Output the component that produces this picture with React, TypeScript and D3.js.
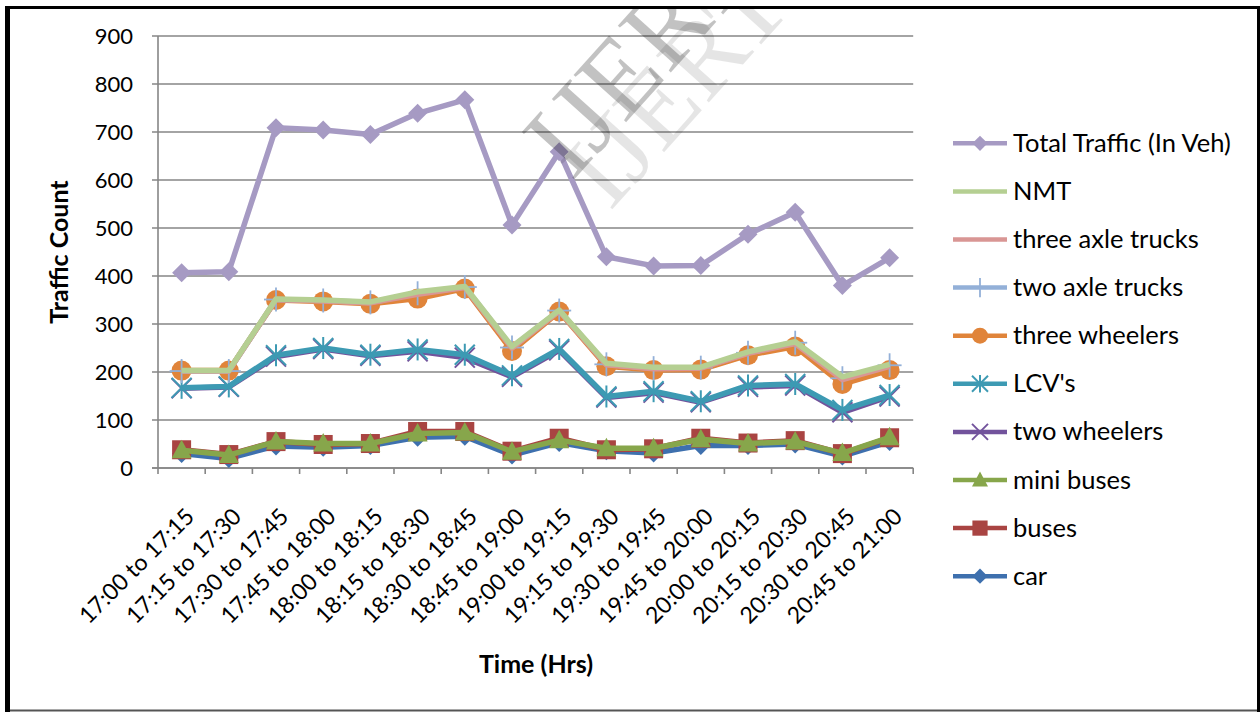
import React from "react";
import * as d3 from "d3";

// Fifteen-minute counting intervals
const timeSlots = [
  "17:00 to 17:15", "17:15 to 17:30", "17:30 to 17:45", "17:45 to 18:00",
  "18:00 to 18:15", "18:15 to 18:30", "18:30 to 18:45", "18:45 to 19:00",
  "19:00 to 19:15", "19:15 to 19:30", "19:30 to 19:45", "19:45 to 20:00",
  "20:00 to 20:15", "20:15 to 20:30", "20:30 to 20:45", "20:45 to 21:00",
];

// Counts per interval
const totalTraffic = [407, 409, 709, 704, 695, 739, 767, 506, 659, 440, 421, 422, 487, 533, 380, 438];
const nmt = [203, 203, 352, 350, 346, 367, 378, 253, 329, 218, 210, 210, 242, 263, 190, 216];
const threeAxleTrucks = [202, 202, 351, 348, 344, 362, 376, 250, 327, 215, 207, 208, 239, 259, 184, 212];
const twoAxleTrucks = [202, 202, 351, 349, 345, 364, 377, 251, 328, 216, 208, 209, 240, 261, 187, 214];
const threeWheelers = [203, 203, 350, 347, 342, 353, 374, 244, 326, 212, 204, 205, 235, 253, 175, 204];
const lcvs = [167, 170, 235, 250, 236, 247, 236, 193, 248, 149, 160, 139, 172, 175, 121, 152];
const twoWheelers = [166, 169, 232, 248, 234, 243, 230, 190, 245, 147, 157, 137, 169, 172, 116, 149];
const miniBuses = [37, 27, 55, 51, 51, 72, 74, 34, 58, 41, 41, 60, 51, 55, 31, 64];
const buses = [38, 28, 55, 49, 51, 76, 76, 35, 62, 38, 40, 62, 52, 57, 30, 63];
const cars = [30, 20, 46, 43, 47, 64, 66, 27, 53, 36, 31, 47, 47, 50, 25, 55];

const yTicks = [0, 100, 200, 300, 400, 500, 600, 700, 800, 900];

type MarkerKind = "diamond" | "none" | "plus" | "circle" | "asterisk" | "cross" | "triangle" | "square";

interface Series {
  name: string;
  values: number[];
  color: string;
  marker: MarkerKind;
}

// Legend order (top to bottom)
const series: Series[] = [
  { name: "Total Traffic (In Veh)", values: totalTraffic, color: "#a69ac3", marker: "diamond" },
  { name: "NMT", values: nmt, color: "#b5cf92", marker: "none" },
  { name: "three axle trucks", values: threeAxleTrucks, color: "#d99694", marker: "none" },
  { name: "two axle trucks", values: twoAxleTrucks, color: "#93b0d8", marker: "plus" },
  { name: "three wheelers", values: threeWheelers, color: "#e0843a", marker: "circle" },
  { name: "LCV's", values: lcvs, color: "#3d9ab3", marker: "asterisk" },
  { name: "two wheelers", values: twoWheelers, color: "#72539c", marker: "cross" },
  { name: "mini buses", values: miniBuses, color: "#87a64b", marker: "triangle" },
  { name: "buses", values: buses, color: "#a94442", marker: "square" },
  { name: "car", values: cars, color: "#3e70ae", marker: "diamond" },
];

const W = 1260;
const H = 712;
const plot = { left: 158, right: 913.2, top: 36, bottom: 468 };
const FONT = "Lato, 'Open Sans', sans-serif";

const x = d3.scaleBand<string>().domain(timeSlots).range([plot.left, plot.right]);
const y = d3.scaleLinear().domain([0, 900]).range([plot.bottom, plot.top]);
const cx = (c: string) => (x(c) as number) + x.bandwidth() / 2;

function Marker({ kind, px, py, color, s }: { kind: MarkerKind; px: number; py: number; color: string; s: number }) {
  switch (kind) {
    case "diamond":
      return <path d={`M${px},${py - s}L${px + s},${py}L${px},${py + s}L${px - s},${py}Z`} fill={color} />;
    case "circle":
      return <circle cx={px} cy={py} r={s} fill={color} />;
    case "square":
      return <rect x={px - s} y={py - s} width={2 * s} height={2 * s} fill={color} />;
    case "triangle":
      return <path d={`M${px},${py - s * 1.05}L${px + s},${py + s * 0.8}L${px - s},${py + s * 0.8}Z`} fill={color} />;
    case "plus":
      return (
        <g stroke={color} strokeWidth={1.8}>
          <line x1={px} y1={py - s * 1.2} x2={px} y2={py + s * 1.2} />
          <line x1={px - s * 1.2} y1={py} x2={px + s * 1.2} y2={py} />
        </g>
      );
    case "asterisk":
      return (
        <g stroke={color} strokeWidth={2}>
          <line x1={px} y1={py - s * 1.1} x2={px} y2={py + s * 1.1} />
          <line x1={px - s} y1={py - s} x2={px + s} y2={py + s} />
          <line x1={px - s} y1={py + s} x2={px + s} y2={py - s} />
        </g>
      );
    case "cross":
      return (
        <g stroke={color} strokeWidth={2}>
          <line x1={px - s} y1={py - s} x2={px + s} y2={py + s} />
          <line x1={px - s} y1={py + s} x2={px + s} y2={py - s} />
        </g>
      );
    default:
      return null;
  }
}

const markerSize: Record<MarkerKind, number> = {
  diamond: 9.5,
  circle: 10,
  square: 9.5,
  triangle: 10,
  plus: 10,
  asterisk: 10,
  cross: 10,
  none: 0,
};

export default function App() {
  const line = d3
    .line<number>()
    .x((_, i) => cx(timeSlots[i]))
    .y((v) => y(v));

  // Draw bottom series first so the upper ones overlap them
  const drawOrder = [...series].reverse();
  const tickXs = d3.range(timeSlots.length + 1).map((i) => plot.left + i * x.bandwidth());

  const legendX = 953;
  const legendTop = 143.3;
  const legendStep = 48.1;

  return (
    <svg
      width={W}
      height={H}
      style={{ position: "absolute", left: 0, top: 0, background: "#fff" }}
      fontFamily={FONT}
    >
      <defs>
        <clipPath id="inner">
          <rect x={10} y={9} width={1247} height={700} />
        </clipPath>
      </defs>
      <rect x={0} y={0} width={W} height={H} fill="#fff" />

      {/* gridlines */}
      {yTicks.map((t) => (
        <line key={t} x1={plot.left - 6} x2={plot.right} y1={y(t)} y2={y(t)} stroke="#868686" strokeWidth={1.6} />
      ))}
      {/* axes */}
      <line x1={plot.left} x2={plot.left} y1={plot.top} y2={plot.bottom} stroke="#868686" strokeWidth={1.6} />
      <line x1={plot.left - 6} x2={plot.right} y1={plot.bottom} y2={plot.bottom} stroke="#868686" strokeWidth={1.6} />
      {tickXs.map((tx, i) => (
        <line key={i} x1={tx} x2={tx} y1={plot.bottom} y2={plot.bottom + 6} stroke="#868686" strokeWidth={1.6} />
      ))}

      {/* y tick labels */}
      {yTicks.map((t) => (
        <text key={t} x={133} y={y(t) + 7.8} textAnchor="end" fontSize={22} fill="#000">
          {t}
        </text>
      ))}

      {/* x tick labels */}
      {timeSlots.map((c) => (
        <text
          key={c}
          transform={`translate(${cx(c) + 14},${518}) rotate(-45)`}
          textAnchor="end"
          fontSize={23}
          fill="#000"
        >
          {c}
        </text>
      ))}

      {/* axis titles */}
      <text transform="translate(68,252) rotate(-90)" textAnchor="middle" fontSize={25} fontWeight="bold">
        Traffic Count
      </text>
      <text x={536} y={673} textAnchor="middle" fontSize={25} fontWeight="bold">
        Time (Hrs)
      </text>

      {/* series */}
      {drawOrder.map((s) => (
        <g key={s.name}>
          <path d={line(s.values) || ""} fill="none" stroke={s.color} strokeWidth={5.5} strokeLinejoin="round" />
          {s.marker !== "none" &&
            s.values.map((v, i) => (
              <Marker key={i} kind={s.marker} px={cx(timeSlots[i])} py={y(v)} color={s.color} s={markerSize[s.marker]} />
            ))}
        </g>
      ))}

      {/* legend */}
      {series.map((s, i) => {
        const ly = legendTop + i * legendStep;
        return (
          <g key={s.name}>
            <line x1={legendX} x2={legendX + 54} y1={ly} y2={ly} stroke={s.color} strokeWidth={4.5} />
            {s.marker !== "none" && (
              <Marker kind={s.marker} px={legendX + 27} py={ly} color={s.color} s={markerSize[s.marker] * 0.8} />
            )}
            <text x={1013} y={ly + 8.5} fontSize={25.5} fill="#000">
              {s.name}
            </text>
          </g>
        );
      })}

      {/* watermark */}
      <g clipPath="url(#inner)" fontFamily="'Liberation Serif', 'DejaVu Serif', serif" fontSize={108}>
        <text transform="translate(702,110) rotate(-48)" textAnchor="middle" fill="#000" fillOpacity={0.1}>
          IJERT
        </text>
        <text transform="translate(664,80) rotate(-48)" textAnchor="middle" fill="#000" fillOpacity={0.24}>
          IJERT
        </text>
      </g>

      {/* chart frame */}
      <rect x={5} y={6} width={5} height={706} fill="#000" />
      <rect x={5} y={6} width={1255} height={3} fill="#000" />
      <rect x={1257} y={6} width={3} height={706} fill="#000" />
      <rect x={10} y={709.5} width={1247} height={2} fill="#555" />
    </svg>
  );
}
